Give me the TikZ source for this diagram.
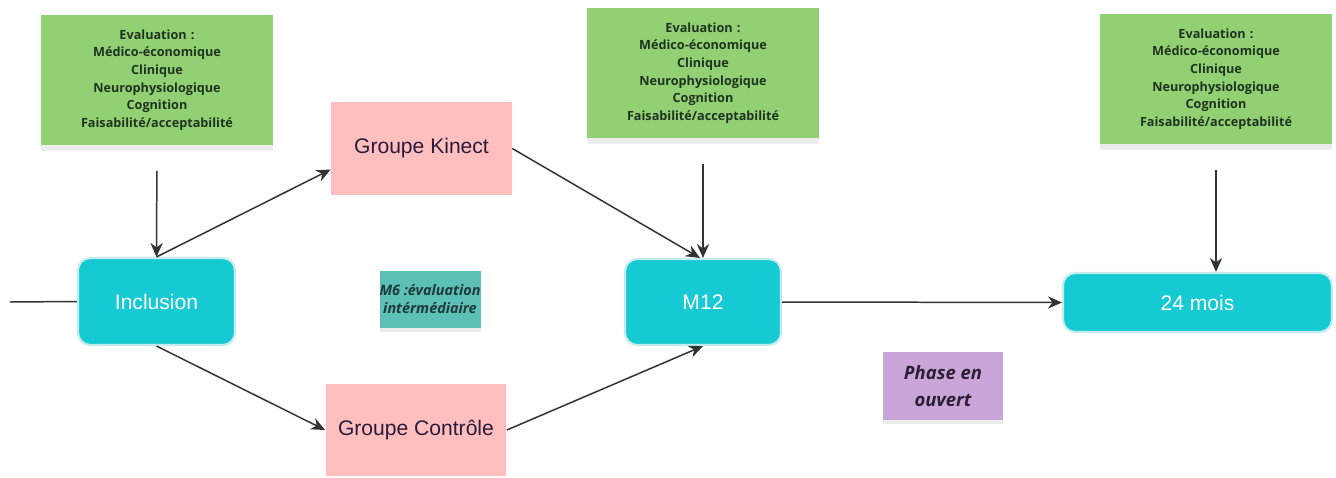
\documentclass[tikz,border=0pt]{standalone}
\usepackage{fontspec}
\setmainfont{Liberation Sans}
\newfontfamily\notefont{Open Sans}
\usepackage{tikz}
\usetikzlibrary{shapes,arrows.meta,positioning,calc,shadows}
\definecolor{notegreen}{HTML}{92D173}
\definecolor{notetxt}{HTML}{1F3320}
\definecolor{grppink}{HTML}{FFBFBF}
\definecolor{grptxt}{HTML}{2B1B3B}
\definecolor{stagecyan}{HTML}{16CAD4}
\definecolor{stageline}{HTML}{C4ECEF}
\definecolor{midteal}{HTML}{5CC0B6}
\definecolor{midtxt}{HTML}{1F3A3A}
\definecolor{phaseviolet}{HTML}{C9A5DA}
\definecolor{phasetxt}{HTML}{2A1F33}
\definecolor{arrowgrey}{HTML}{333333}

\begin{document}
\begin{tikzpicture}[
    x=0.02cm, y=-0.02cm,
    evalnote/.style={rectangle, fill=notegreen, text width=4.4cm, align=center,
                     minimum width=4.6cm, minimum height=2.62cm, text=notetxt,
                     font=\notefont\bfseries\fontsize{7.2}{10}\selectfont,
                     drop shadow={shadow xshift=0pt, shadow yshift=-3pt, opacity=0.15}},
    stagebox/.style={rectangle, draw=stageline, line width=1.2pt, fill=stagecyan,
                     rounded corners=7pt, text=white, font=\fontsize{12}{14}\selectfont},
    groupbox/.style={rectangle, fill=grppink, text=grptxt, minimum width=3.62cm,
                     minimum height=1.85cm, font=\fontsize{12}{14}\selectfont},
    midnote/.style={rectangle, align=center, inner sep=0pt,
                    font=\notefont\bfseries\itshape,
                    drop shadow={shadow xshift=0pt, shadow yshift=-2pt, opacity=0.15}},
    arrow/.style={-{Stealth[length=8pt,width=7pt]}, draw=arrowgrey, line width=0.85pt}
]
\useasboundingbox (0,0) rectangle (1336,477);
\node[evalnote] (note1) at (157,80) {Evaluation :\\Médico-économique\\Clinique\\Neurophysiologique\\Cognition\\Faisabilité/acceptabilité};
\node[evalnote] (note2) at (703,73) {Evaluation :\\Médico-économique\\Clinique\\Neurophysiologique\\Cognition\\Faisabilité/acceptabilité};
\node[evalnote] (note3) at (1216,79) {Evaluation :\\Médico-économique\\Clinique\\Neurophysiologique\\Cognition\\Faisabilité/acceptabilité};
\node[stagebox, minimum width=3.14cm, minimum height=1.74cm] (incl) at (156.5,301.5) {Inclusion};
\node[stagebox, minimum width=3.12cm, minimum height=1.72cm] (m12) at (703,302) {M12};
\node[stagebox, minimum width=5.38cm, minimum height=1.18cm] (mois) at (1197.5,302.5) {24 mois};
\node[groupbox] (kinect) at (421.5,148.5) {Groupe Kinect};
\node[groupbox] (controle) at (416,430) {Groupe Contrôle};
\node[midnote, fill=midteal, text=midtxt, minimum width=2cm, minimum height=1.14cm,
      font=\notefont\bfseries\itshape\fontsize{8.2}{10.2}\selectfont] (m6) at (430,299.5)
    {M6 :évaluation\\intérmédiaire};
\node[midnote, fill=phaseviolet, text=phasetxt, minimum width=2.4cm, minimum height=1.36cm,
      font=\notefont\bfseries\itshape\fontsize{10.5}{15.5}\selectfont] (phase) at (943,386)
    {Phase en\\ouvert};
\coordinate (start) at (10,302);
\draw[arrowgrey, line width=0.85pt] (start) -- (incl.west);
\draw[arrow, shorten <=0.5cm] (note1.south) -- (incl.north);
\draw[arrow, shorten <=0.5cm] (note2.south) -- (m12.north);
\draw[arrow, shorten <=0.5cm] (note3.south) -- (note3.south |- mois.north);
\draw[arrow] (incl.north) -- ([yshift=-0.42cm]kinect.west);
\draw[arrow] (incl.south) -- (controle.west);
\draw[arrow] (kinect.east) -- ([xshift=-0.06cm]m12.north);
\draw[arrow] (controle.east) -- (m12.south);
\draw[arrow] (m12.east) -- (mois.west);
\end{tikzpicture}
\end{document}
